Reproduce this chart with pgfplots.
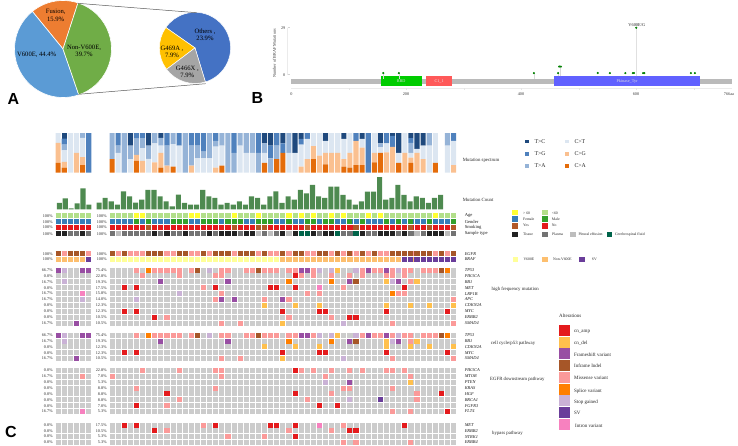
\documentclass[border=0pt]{standalone}
\usepackage{fontspec}
\usepackage{pgfplots}
\usepackage{pgfplotstable}
\pgfplotsset{compat=1.18}
\setmainfont{Liberation Serif}
\newfontfamily\arial{Liberation Sans}
\newcommand\fs[1]{\fontsize{#1bp}{#1bp}\selectfont}
\pgfdeclareplotmark{cell}{\pgfpathrectangle{\pgfqpoint{-2.55bp}{-2.5bp}}{\pgfqpoint{5.1bp}{5bp}}\pgfusepathqfill}
% spectrum
\definecolor{TC}{HTML}{1F497D}\definecolor{TG}{HTML}{4F81BD}\definecolor{TA}{HTML}{95B3D7}
\definecolor{CT}{HTML}{DCE6F1}\definecolor{CG}{HTML}{FAC090}\definecolor{CA}{HTML}{E46C0A}
\definecolor{barg}{HTML}{4E8A50}
% meta
\definecolor{ageO}{HTML}{FFFF33}\definecolor{ageY}{HTML}{B2DF8A}
\definecolor{fem}{HTML}{377EB8}\definecolor{mal}{HTML}{33A02C}
\definecolor{yes}{HTML}{B15928}\definecolor{no}{HTML}{E31A1C}
\definecolor{tis}{HTML}{222222}\definecolor{pla}{HTML}{737373}\definecolor{ple}{HTML}{BDBDBD}\definecolor{csf}{HTML}{00644A}
\definecolor{vE}{HTML}{FFFF99}\definecolor{nonV}{HTML}{FDBF6F}
% alterations
\definecolor{amp}{HTML}{E41A1C}\definecolor{del}{HTML}{FFC04D}\definecolor{fra}{HTML}{984EA3}
\definecolor{inf}{HTML}{A65628}\definecolor{mis}{HTML}{FB9A99}\definecolor{spl}{HTML}{FF7F00}
\definecolor{sto}{HTML}{CAB2D6}\definecolor{sv}{HTML}{6A3D9A}\definecolor{intr}{HTML}{F781BF}
\definecolor{cellg}{HTML}{CCCCCC}
% pies
\definecolor{pF}{HTML}{ED7D31}\definecolor{pN}{HTML}{70AD47}\definecolor{pV}{HTML}{5B9BD5}
\definecolor{pO}{HTML}{4472C4}\definecolor{pA}{HTML}{FFC000}\definecolor{pX}{HTML}{A5A5A5}

\pgfplotstableread{
x  CA CG CT TA TG TC
0  34 0 0 66 0 0
1  0 0 50 18 32 0
2  0 0 0 100 0 0
3  0 0 34 34 0 32
4  30 15 0 41 14 0
5  0 30 32 25 13 0
6  0 0 35 33 0 32
7  0 26 48 26 0 0
8  13 37 18 20 0 12
9  0 18 0 50 32 0
10 15 0 57 28 0 0
11 0 0 68 0 32 0
12 0 0 0 100 0 0
13 0 18 0 50 32 0
14 0 0 36 32 32 0
15 0 0 36 17 47 0
16 0 0 36 64 0 0
17 0 13 53 14 20 0
18 18 0 50 32 0 0
19 0 0 0 100 0 0
20 0 0 0 50 50 0
21 0 0 68 32 0 0
22 0 0 50 50 0 0
23 0 0 50 50 0 0
24 0 0 0 50 50 0
25 25 0 25 24 0 26
26 0 0 0 36 32 32
27 34 0 0 34 32 0
28 50 0 0 0 24 26
29 0 0 50 50 0 0
30 0 0 50 0 0 50
31 0 15 56 0 14 15
32 0 34 51 0 15 0
33 34 33 33 0 0 0
34 0 43 57 0 0 0
35 21 29 30 0 0 20
36 0 50 50 0 0 0
37 0 50 50 0 0 0
38 15 19 51 0 0 15
39 13 37 50 0 0 0
40 19 61 0 0 20 0
41 19 44 22 0 0 15
42 0 0 0 0 100 0
43 26 24 50 0 0 0
44 50 0 14 10 0 26
45 0 51 23 0 26 0
46 0 65 0 0 28 7
47 25 0 25 0 0 50
48 0 50 50 0 0 0
49 25 13 12 25 12 13
50 0 50 10 0 0 40
51 0 34 34 0 0 32
52 0 0 68 32 0 0
53 25 0 75 0 0 0
54 0 0 0 0 0 0
55 0 0 68 32 0 0
56 0 19 61 0 20 0
}\specR
\pgfplotstableread{
x CA CG CT TA TG TC
0 25 50 25 0 0 0
1 13 14 29 15 15 14
2 0 0 100 0 0 0
3 0 50 50 0 0 0
4 19 20 49 12 0 0
5 0 0 0 0 100 0
}\specL
\pgfplotstableread{
x n
0 20
1 34
2 24
3 14
4 54
5 39
6 20
7 29
8 58
9 58
10 39
11 24
12 9
13 44
14 19
15 14
16 14
17 58
18 39
19 34
20 14
21 19
22 14
23 24
24 14
25 39
26 34
27 14
28 39
29 54
30 19
31 39
32 29
33 58
34 48
35 73
36 39
37 34
38 68
39 68
40 43
41 29
42 14
43 24
44 53
45 53
46 97
47 29
48 34
49 73
50 43
51 24
52 39
53 34
54 19
55 34
56 43
}\cntR
\pgfplotstableread{
x n
0 19
1 33
2 3
3 18
4 63
5 14
}\cntL

\newcommand\baseR[2]{\addplot[color=#1,no markers,line width=5bp,line cap=butt,dash pattern=on 5.1bp off 1bp] coordinates {(-0.418,#2)(56.418,#2)};}
\newcommand\baseL[2]{\addplot[color=#1,no markers,line width=5bp,line cap=butt,dash pattern=on 5.1bp off 1.03bp] coordinates {(-0.416,#2)(5.416,#2)};}
\newcommand\Cl[2]{\addplot[only marks,mark=cell,color=#1] coordinates {#2};}
% repeated gene rows
\newcommand\rowTP[1]{%
\Cl{mis}{(4,#1)(7,#1)(8,#1)(9,#1)(10,#1)(11,#1)(13,#1)(18,#1)(19,#1)(22,#1)(23,#1)(25,#1)(26,#1)(27,#1)(29,#1)(30,#1)(33,#1)(41,#1)(43,#1)(44,#1)(46,#1)(48,#1)(49,#1)(51,#1)(52,#1)(53,#1)}
\Cl{spl}{(6,#1)(55,#1)}\Cl{inf}{(14,#1)(24,#1)(54,#1)}
\Cl{sto}{(16,#1)(34,#1)(36,#1)(40,#1)(47,#1)}\Cl{fra}{(31,#1)(32,#1)(42,#1)(45,#1)}\Cl{del}{(37,#1)}}
\newcommand\rowPI[1]{\Cl{mis}{(5,#1)(11,#1)(17,#1)(18,#1)(31,#1)(33,#1)(36,#1)(39,#1)(41,#1)(45,#1)(46,#1)(48,#1)}\Cl{amp}{(30,#1)}}
\newcommand\rowRB[1]{\Cl{fra}{(8,#1)(19,#1)(39,#1)(47,#1)}\Cl{spl}{(29,#1)(36,#1)}\Cl{inf}{(40,#1)}\Cl{del}{(45,#1)(50,#1)}\Cl{sto}{(46,#1)}\Cl{mis}{(49,#1)}}
\newcommand\rowME[1]{\Cl{amp}{(2,#1)(4,#1)(17,#1)(26,#1)(27,#1)(30,#1)(48,#1)}\Cl{mis}{(15,#1)(38,#1)}\Cl{intr}{(34,#1)}}
\newcommand\rowCD[1]{\Cl{del}{(25,#1)(30,#1)(34,#1)(45,#1)(49,#1)(52,#1)(56,#1)}}
\newcommand\rowMY[1]{\Cl{amp}{(2,#1)(4,#1)(28,#1)(34,#1)(35,#1)(45,#1)(55,#1)}}
\newcommand\rowER[1]{\Cl{amp}{(7,#1)(39,#1)(40,#1)}\Cl{mis}{(9,#1)(29,#1)(36,#1)}}
\newcommand\rowSM[1]{\Cl{mis}{(18,#1)(21,#1)(46,#1)(56,#1)}\Cl{del}{(28,#1)}\Cl{sto}{(38,#1)}}

\pgfplotsset{base/.style={hide axis,scale only axis,clip=false,anchor=north west}}

\begin{document}
\begin{tikzpicture}
\useasboundingbox (0,0) rectangle (738bp,-446bp);

% ---------- A: pies
\begin{scope}[shift={(63bp,-49bp)}]
\fill[pF,draw=white,line width=.6bp] (0,0) -- (72:48.5bp) arc[start angle=72,end angle=129.2,radius=48.5bp] -- cycle;
\fill[pV,draw=white,line width=.6bp] (0,0) -- (129.2:48.5bp) arc[start angle=129.2,end angle=289,radius=48.5bp] -- cycle;
\fill[pN,draw=white,line width=.6bp] (0,0) -- (289:48.5bp) arc[start angle=289,end angle=432,radius=48.5bp] -- cycle;
\end{scope}
\begin{scope}[shift={(195bp,-47.9bp)}]
\fill[pO,draw=white,line width=.5bp] (0,0) -- (-73:35.6bp) arc[start angle=-73,end angle=145,radius=35.6bp] -- cycle;
\fill[pA,draw=white,line width=.5bp] (0,0) -- (145:35.6bp) arc[start angle=145,end angle=217,radius=35.6bp] -- cycle;
\fill[pX,draw=white,line width=.5bp] (0,0) -- (217:35.6bp) arc[start angle=217,end angle=287,radius=35.6bp] -- cycle;
\end{scope}
\draw[black!65,line width=.5bp] (77.7bp,-3.3bp) -- (196.7bp,-12.7bp);
\draw[black!65,line width=.5bp] (78.3bp,-94.3bp) -- (205.7bp,-83.7bp);
\begin{scope}[every node/.style={align=center,inner sep=0pt,font=\fs{6.6}}]
\node at (55.7bp,-15.3bp) {Fusion,\\[.6bp]15.9\%};
\node at (36.7bp,-55.3bp) {V600E, 44.4\%};
\node at (84bp,-50.7bp) {Non-V600E,\\[.6bp]39.7\%};
\node at (205bp,-35bp) {Others ,\\[.6bp]23.9\%};
\node at (172bp,-51.7bp) {G469A ,\\[.6bp]7.9\%};
\node at (187.3bp,-71.7bp) {G466X ,\\[.6bp]7.9\%};
\end{scope}
\node[inner sep=0pt,font=\arial\bfseries\fs{16}] at (13.5bp,-98.5bp) {A};
\node[inner sep=0pt,font=\arial\bfseries\fs{16}] at (257.5bp,-98bp) {B};
\node[inner sep=0pt,font=\arial\bfseries\fs{16}] at (11bp,-432bp) {C};

% ---------- B: lollipop
\begin{axis}[base,at={(291.3bp,-27.7bp)},width=440.4bp,height=47bp,xmin=0,xmax=766,ymin=0,ymax=29]
\addplot[color=black!8,no markers,line width=.6bp] coordinates {(0,-8.4)(766,-8.4)};
\addplot[color=black!8,no markers,line width=.5bp] coordinates {(-6.3,29)(-6.3,0)};
\addplot[color=black!50!white,no markers,line width=.5bp,opacity=.35] coordinates {(-6.3,29)(-3,29)};
\addplot[color=black!50!white,no markers,line width=.5bp,opacity=.35] coordinates {(-6.3,0)(-3,0)};
\addplot[color=black!10,no markers,line width=.5bp] coordinates {(100,-8.4)(100,-9.4)};
\addplot[color=black!10,no markers,line width=.5bp] coordinates {(300,-8.4)(300,-9.4)};
\addplot[color=black!10,no markers,line width=.5bp] coordinates {(500,-8.4)(500,-9.4)};
\addplot[color=black!10,no markers,line width=.5bp] coordinates {(700,-8.4)(700,-9.4)};
\addplot[color=black!10,no markers,line width=.5bp] coordinates {(200,-8.4)(200,-9.4)};
\addplot[color=black!10,no markers,line width=.5bp] coordinates {(400,-8.4)(400,-9.4)};
\addplot[color=black!10,no markers,line width=.5bp] coordinates {(600,-8.4)(600,-9.4)};
\addplot[fill=black!27!white,draw=none] coordinates {(0,-2.47)(766,-2.47)(766,-5.92)(0,-5.92)} --cycle;
\addplot[fill=green!80!black,draw=none] coordinates {(156,-0.99)(227,-0.99)(227,-6.97)(156,-6.97)} --cycle;
\addplot[fill=red!65!white,draw=none] coordinates {(234,-0.99)(280,-0.99)(280,-6.97)(234,-6.97)} --cycle;
\addplot[fill=blue!62!white,draw=none] coordinates {(457,-0.99)(711,-0.99)(711,-6.97)(457,-6.97)} --cycle;
\node[font=\fs{4.2},text=white!75!gray] at (axis cs:191,-4) {RBD};
\node[font=\fs{4.2},text=white!85!gray] at (axis cs:257,-4) {C1\_1};
\node[font=\fs{4.2},text=white!75!gray] at (axis cs:584,-4) {Pkinase\_Tyr};
\addplot[color=black!15,no markers,line width=.5bp] coordinates {(160,-2.5)(160,1)};
\addplot[color=black!15,no markers,line width=.5bp] coordinates {(187,-2.5)(187,1)};
\addplot[color=black!15,no markers,line width=.5bp] coordinates {(422,-2.5)(422,1)};
\addplot[color=black!15,no markers,line width=.5bp] coordinates {(464,-1)(464,1)};
\addplot[color=black!15,no markers,line width=.5bp] coordinates {(467,-1)(467,5)};
\addplot[color=black!12,no markers,line width=.9bp] coordinates {(600,-1)(600,29)};
\addplot[only marks,mark=*,mark size=.85bp,color=green!50!black] coordinates {(160,1)(187,1)(422,1)(464,1)(466,5)(469,5)(533,1)(554,1)(581,1)(594,1)(596,1)(612,1)(614,1)(695,1)(702,1)(600,29)};
\node[font=\fs{4.4},text=black!85] at (axis cs:601,30.8) {V600E/G};
\end{axis}
\begin{scope}[every node/.style={inner sep=0pt,font=\fs{4.2},text=black!80}]
\node[anchor=east] at (285.5bp,-27.7bp) {29};
\node[anchor=east] at (285.5bp,-74.7bp) {0};
\node[rotate=90] at (274.3bp,-53.3bp) {Number of BRAF Mutations};
\node at (291.5bp,-94bp) {0};
\node at (406bp,-94bp) {200};
\node at (521bp,-94bp) {400};
\node at (636bp,-94bp) {600};
\node at (729bp,-94bp) {766aa};
\end{scope}

% ---------- C: spectrum
\pgfplotsset{spec/.style={base,ybar stacked,bar width=5.1bp,ymin=0,ymax=100,height=39.7bp}}
\newcommand\specplot[1]{%
\addplot[fill=CA,draw=none] table[x=x,y=CA]{#1};
\addplot[fill=CG,draw=none] table[x=x,y=CG]{#1};
\addplot[fill=CT,draw=none] table[x=x,y=CT]{#1};
\addplot[fill=TA,draw=none] table[x=x,y=TA]{#1};
\addplot[fill=TG,draw=none] table[x=x,y=TG]{#1};
\addplot[fill=TC,draw=none] table[x=x,y=TC]{#1};}
\begin{axis}[spec,at={(55bp,-133bp)},width=36.8bp,xmin=-0.5,xmax=5.5]
\specplot{\specL}
\end{axis}
\begin{axis}[spec,at={(109bp,-133bp)},width=347.7bp,xmin=-0.5,xmax=56.5]
\specplot{\specR}
\end{axis}

% ---------- C: mutation count
\pgfplotsset{cnt/.style={base,ybar,bar width=5.1bp,ymin=0,ymax=100,height=33.3bp}}
\begin{axis}[cnt,at={(56.4bp,-176bp)},width=35.4bp,xmin=-0.5,xmax=5.5]
\addplot[fill=barg,draw=none] table[x=x,y=n]{\cntL};
\end{axis}
\begin{axis}[cnt,at={(96bp,-176bp)},width=347.7bp,xmin=-0.5,xmax=56.5]
\addplot[fill=barg,draw=none] table[x=x,y=n]{\cntR};
\end{axis}

% ---------- C: heat map, left block
\begin{axis}[base,at={(55bp,0bp)},width=36.8bp,height=446bp,xmin=-0.5,xmax=5.5,ymin=0,ymax=446,y dir=reverse]
\baseL{ageY}{215.7}\baseL{fem}{221.8}\baseL{no}{227.6}\baseL{pla}{233.7}
\Cl{tis}{(0,233.7)(1,233.7)(4,233.7)}
\baseL{inf}{253.7}\Cl{mis}{(1,253.7)(5,253.7)}
\baseL{nonV}{259.3}\Cl{sv}{(5,259.3)}
\baseL{cellg}{270}\baseL{cellg}{275.9}\baseL{cellg}{281.8}\baseL{cellg}{287.7}\baseL{cellg}{293.6}\baseL{cellg}{299.4}\baseL{cellg}{305.3}\baseL{cellg}{311.2}\baseL{cellg}{317.1}\baseL{cellg}{323}
\baseL{cellg}{335.3}\baseL{cellg}{341.1}\baseL{cellg}{346.9}\baseL{cellg}{352.7}\baseL{cellg}{358.5}
\baseL{cellg}{370.3}\baseL{cellg}{376.2}\baseL{cellg}{382.1}\baseL{cellg}{388}\baseL{cellg}{393.9}\baseL{cellg}{399.8}\baseL{cellg}{405.7}\baseL{cellg}{411.5}
\baseL{cellg}{425}\baseL{cellg}{430.8}\baseL{cellg}{436.6}\baseL{cellg}{442.4}
\Cl{fra}{(0,270)(4,270)(5,270)(3,323)(0,335.3)(4,335.3)(5,335.3)(3,358.5)}
\Cl{sto}{(1,270)(1,281.8)(4,299.4)(1,335.3)(1,341.1)}
\Cl{intr}{(4,293.6)(4,411.5)}
\Cl{mis}{(4,376.2)}
\end{axis}

% ---------- C: heat map, right block
\begin{axis}[base,at={(109bp,0bp)},width=347.7bp,height=446bp,xmin=-0.5,xmax=56.5,ymin=0,ymax=446,y dir=reverse]
\baseR{ageY}{215.7}
\Cl{ageO}{(4,215.7)(5,215.7)(13,215.7)(14,215.7)(20,215.7)(24,215.7)(29,215.7)(31,215.7)(33,215.7)(36,215.7)(38,215.7)(42,215.7)(44,215.7)(53,215.7)}
\baseR{fem}{221.8}
\Cl{mal}{(4,221.8)(6,221.8)(10,221.8)(11,221.8)(12,221.8)(15,221.8)(16,221.8)(17,221.8)(19,221.8)(20,221.8)(21,221.8)(24,221.8)(25,221.8)(26,221.8)(29,221.8)(32,221.8)(33,221.8)(35,221.8)(36,221.8)(39,221.8)(41,221.8)(45,221.8)(47,221.8)(49,221.8)(52,221.8)(56,221.8)}
\baseR{no}{227.6}
\Cl{yes}{(6,227.6)(20,227.6)(24,227.6)(25,227.6)(32,227.6)(40,227.6)(49,227.6)(52,227.6)(56,227.6)}
\baseR{pla}{233.7}
\Cl{tis}{(7,233.7)(9,233.7)(12,233.7)(16,233.7)(18,233.7)(19,233.7)(20,233.7)(22,233.7)(23,233.7)(28,233.7)(30,233.7)(33,233.7)(35,233.7)(36,233.7)(41,233.7)(44,233.7)(45,233.7)(46,233.7)(48,233.7)(52,233.7)(53,233.7)(54,233.7)}
\Cl{ple}{(1,233.7)(24,233.7)(26,233.7)(29,233.7)(50,233.7)(55,233.7)}
\Cl{csf}{(31,233.7)(32,233.7)(37,233.7)(40,233.7)}
\baseR{mis}{253.7}
\Cl{inf}{(0,253.7)(2,253.7)(6,253.7)(7,253.7)(8,253.7)(11,253.7)(12,253.7)(15,253.7)(17,253.7)(18,253.7)(19,253.7)(21,253.7)(22,253.7)(23,253.7)(25,253.7)(28,253.7)(30,253.7)(31,253.7)(34,253.7)(35,253.7)(37,253.7)(39,253.7)(41,253.7)(43,253.7)(46,253.7)(47,253.7)(48,253.7)(49,253.7)(50,253.7)(51,253.7)(52,253.7)(54,253.7)(56,253.7)}
\baseR{nonV}{259.3}
\Cl{vE}{(0,259.3)(1,259.3)(2,259.3)(3,259.3)(4,259.3)(5,259.3)(6,259.3)(7,259.3)(8,259.3)(9,259.3)(10,259.3)(11,259.3)(12,259.3)(13,259.3)(14,259.3)(15,259.3)(16,259.3)(17,259.3)(18,259.3)(19,259.3)(20,259.3)(21,259.3)(22,259.3)(23,259.3)(24,259.3)(25,259.3)(26,259.3)(27,259.3)}
\Cl{sv}{(48,259.3)(49,259.3)(50,259.3)(51,259.3)(52,259.3)(53,259.3)(54,259.3)(55,259.3)(56,259.3)}
\baseR{cellg}{270}\baseR{cellg}{275.9}\baseR{cellg}{281.8}\baseR{cellg}{287.7}\baseR{cellg}{293.6}\baseR{cellg}{299.4}\baseR{cellg}{305.3}\baseR{cellg}{311.2}\baseR{cellg}{317.1}\baseR{cellg}{323}
\baseR{cellg}{335.3}\baseR{cellg}{341.1}\baseR{cellg}{346.9}\baseR{cellg}{352.7}\baseR{cellg}{358.5}
\baseR{cellg}{370.3}\baseR{cellg}{376.2}\baseR{cellg}{382.1}\baseR{cellg}{388}\baseR{cellg}{393.9}\baseR{cellg}{399.8}\baseR{cellg}{405.7}\baseR{cellg}{411.5}
\baseR{cellg}{425}\baseR{cellg}{430.8}\baseR{cellg}{436.6}\baseR{cellg}{442.4}
% high frequency
\rowTP{270}\rowPI{275.9}\rowRB{281.8}\rowME{287.7}
\Cl{sto}{(11,293.6)}\Cl{mis}{(18,293.6)(32,293.6)(34,293.6)(47,293.6)(48,293.6)}\Cl{spl}{(46,293.6)}
\Cl{sto}{(4,299.4)}\Cl{mis}{(17,299.4)(25,299.4)(29,299.4)(56,299.4)}\Cl{fra}{(18,299.4)(20,299.4)(28,299.4)}
\rowCD{305.3}\rowMY{311.2}\rowER{317.1}\rowSM{323}
% cell cycle
\rowTP{335.3}\rowRB{341.1}\rowCD{346.9}\rowMY{352.7}\rowSM{358.5}
% EGFR downstream
\rowPI{370.3}
\Cl{mis}{(0,376.2)(18,376.2)(35,376.2)(49,376.2)}
\Cl{sto}{(35,382.1)}\Cl{fra}{(39,382.1)}\Cl{del}{(49,382.1)}
\Cl{mis}{(4,388)(17,388)(38,388)(39,388)(46,388)}
\Cl{amp}{(9,393.9)(30,393.9)(54,393.9)}\Cl{mis}{(36,393.9)(50,393.9)}
\Cl{mis}{(11,399.8)(32,399.8)(50,399.8)}\Cl{sto}{(39,399.8)}\Cl{sv}{(44,399.8)}
\Cl{amp}{(4,405.7)(34,405.7)(37,405.7)}\Cl{mis}{(9,405.7)}
\Cl{mis}{(46,411.5)(49,411.5)}\Cl{amp}{(55,411.5)}
% bypass
\rowME{425}\rowER{430.8}
\Cl{mis}{(19,436.6)(25,436.6)}\Cl{amp}{(30,436.6)}
\Cl{mis}{(38,442.4)(40,442.4)(49,442.4)}
\end{axis}

% ---------- C: percentages and names
\foreach \y/\a/\b/\g in {270/66.7/75.4/TP53,275.9/0.0/22.8/PIK3CA,281.8/16.7/19.3/RB1,287.7/0.0/17.5/MET,293.6/16.7/15.8/LRP1B,299.4/16.7/14.0/APC,305.3/0.0/12.3/CDKN2A,311.2/0.0/12.3/MYC,317.1/0.0/10.5/ERBB2,323/16.7/10.5/SMAD4,335.3/66.7/75.4/TP53,341.1/16.7/19.3/RB1,346.9/0.0/12.3/CDKN2A,352.7/0.0/12.3/MYC,358.5/16.7/10.5/SMAD4,370.3/0.0/22.8/PIK3CA,376.2/16.7/7.0/MTOR,382.1/0.0/5.3/PTEN,388/0.0/8.8/KRAS,393.9/0.0/8.8/HGF,399.8/0.0/8.8/BRCA1,405.7/0.0/7.0/FGFR3,411.5/16.7/5.3/FLT4,425/0.0/17.5/MET,430.8/0.0/10.5/ERBB2,436.6/0.0/5.3/NTRK1,442.4/0.0/5.3/ERBB4}{
\node[anchor=east,inner sep=0pt,font=\fs{4.2},text=black!85] at (52.8bp,-\y bp) {\a\%};
\node[anchor=east,inner sep=0pt,font=\fs{4.2},text=black!85] at (106.8bp,-\y bp) {\b\%};
\node[anchor=west,inner sep=0pt,font=\itshape\fs{4.4},text=black!90] at (464.6bp,-\y bp) {\g};
}
\foreach \y/\g in {215.7/Age,221.8/Gender,227.6/Smoking,233.7/Sample type,253.7/EGFR,259.3/BRAF}{
\node[anchor=east,inner sep=0pt,font=\fs{4.2},text=black!85] at (52.8bp,-\y bp) {100\%};
\node[anchor=east,inner sep=0pt,font=\fs{4.2},text=black!85] at (106.8bp,-\y bp) {100\%};
}
\foreach \y/\g in {215.7/Age,221.8/Gender,227.6/Smoking,233.7/Sample type}{
\node[anchor=west,inner sep=0pt,font=\fs{4.6},text=black!90] at (464.6bp,-\y bp) {\g};}
\foreach \y/\g in {253.7/EGFR,259.3/BRAF}{
\node[anchor=west,inner sep=0pt,font=\itshape\fs{4.4},text=black!90] at (464.6bp,-\y bp) {\g};}
\begin{scope}[every node/.style={anchor=west,inner sep=0pt,font=\fs{4.8},text=black!85}]
\node at (462.7bp,-160.7bp) {Mutation spectrum};
\node at (462.7bp,-200bp) {Mutation Count};
\node at (491.5bp,-289.5bp) {high frequency mutation};
\node at (490.7bp,-343.3bp) {cell cycle/p53 pathway};
\node at (490bp,-379.3bp) {EGFR downstream pathway};
\node at (492bp,-433.3bp) {bypass pathway};
\end{scope}

% ---------- legends
\newcommand\Lg[4]{\fill[#1] (#2bp-#4bp/2,-#3bp+#4bp/2) rectangle (#2bp+#4bp/2,-#3bp-#4bp/2);}
\newcommand\Lt[4]{\node[anchor=west,inner sep=0pt,font=\fs{#4},text=black!85] at (#1bp,-#2bp) {#3};}
\Lg{TC}{526.7}{141.3}{3.6}\Lt{534.3}{141.3}{T>C}{5.8}
\Lg{CT}{567}{141.3}{3.6}\Lt{574.3}{141.3}{C>T}{5.8}
\Lg{TG}{526.7}{154}{3.6}\Lt{534.3}{154}{T>G}{5.8}
\Lg{CG}{567}{154}{3.6}\Lt{574.3}{154}{C>G}{5.8}
\Lg{TA}{526.7}{166}{3.6}\Lt{534.3}{166}{T>A}{5.8}
\Lg{CA}{567}{166}{3.6}\Lt{574.3}{166}{C>A}{5.8}

\Lg{ageO}{514.7}{212.3}{5.6}\Lt{523}{213}{> 60}{3.8}
\Lg{ageY}{545}{212.3}{5.6}\Lt{551.7}{213.3}{<60}{3.8}
\Lg{fem}{514.7}{219}{5.6}\Lt{523}{219}{Female}{3.8}
\Lg{mal}{545}{219}{5.6}\Lt{551.7}{219}{Male}{3.8}
\Lg{yes}{514.7}{225.7}{5.6}\Lt{523}{225.3}{Yes}{3.8}
\Lg{no}{545}{225.7}{5.6}\Lt{551.7}{225.3}{No}{3.8}
\Lg{tis}{514.7}{234.3}{5.6}\Lt{523}{234.3}{Tissue}{3.8}
\Lg{pla}{545}{234.3}{5.6}\Lt{552}{234.3}{Plasma}{3.8}
\Lg{ple}{573}{234.3}{5.6}\Lt{578.3}{234.3}{Pleural effusion}{3.8}
\Lg{csf}{609.3}{234.3}{5.6}\Lt{615}{234.3}{Cerebrospinal fluid}{3.8}
\Lg{vE}{515.3}{259.3}{5.6}\Lt{523.3}{259.3}{V600E}{3.8}
\Lg{nonV}{545}{259.3}{5.6}\Lt{553}{259.3}{Non-V600E}{3.8}
\Lg{sv}{582}{259.3}{5.6}\Lt{591.7}{259.3}{SV}{3.8}

\Lt{559}{316}{Alterations}{5}
\Lg{amp}{564.7}{330.3}{11.2}\Lt{574}{332}{cn\_amp}{5}
\Lg{del}{564.7}{342.3}{11.2}\Lt{574}{343.3}{cn\_del}{5}
\Lg{fra}{564.7}{353.7}{11.2}\Lt{574}{354.3}{Frameshift variant}{5}
\Lg{inf}{564.7}{365.3}{11.2}\Lt{574}{365.7}{Inframe Indel}{5}
\Lg{mis}{564.7}{377.7}{11.2}\Lt{574}{378}{Missense variant}{5}
\Lg{spl}{564.7}{389.3}{11.2}\Lt{574}{391}{Splice variant}{5}
\Lg{sto}{564.7}{400.7}{11.2}\Lt{574}{402}{Stop gained}{5}
\Lg{sv}{564.7}{412.3}{11.2}\Lt{574}{413.3}{SV}{5}
\Lg{intr}{564.7}{424.3}{11.2}\Lt{575}{425.7}{Intron variant}{5}
\end{tikzpicture}
\end{document}
